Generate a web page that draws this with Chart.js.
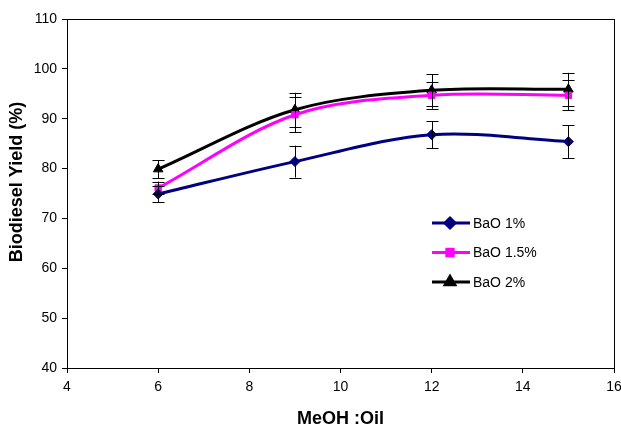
<!DOCTYPE html>
<html>
<head>
<meta charset="utf-8">
<script src="https://cdn.jsdelivr.net/npm/chart.js@4.4.1/dist/chart.umd.min.js"></script>
<style>
  html, body { margin: 0; padding: 0; background: #fff; }
  #wrap { width: 621px; height: 432px; }
</style>
</head>
<body>
<div id="wrap"><canvas id="chart" width="621" height="432"></canvas></div>
<script>
// dati
const ratios = [6, 9, 12, 15]; // MeOH:Oil
const labels = ["BaO 1%", "BaO 1.5%", "BaO 2%"];
const bao1 = [74.9, 81.4, 86.8, 85.4];
const bao15 = [76.1, 90.8, 94.7, 94.7];
const bao2 = [79.9, 91.8, 95.7, 95.9];
const err1 = [1.6, 3.2, 2.7, 3.3];
const err15 = [1.3, 3.5, 2.7, 3.0];
const err2 = [1.8, 3.4, 3.2, 3.3];
const xTicks = [4, 6, 8, 10, 12, 14, 16];
const yTicks = [40, 50, 60, 70, 80, 90, 100, 110];

const colors = ["#000080", "#FF00FF", "#000000"];
const shapes = ["rectRot", "rect", "triangle"];
const radii = [5, 4.5, 5.5];
const allValues = [bao1, bao15, bao2];
const allErrors = [err1, err15, err2];

const font = "'Liberation Sans', Arial, sans-serif";

function toPoints(vals) {
  return ratios.map((x, i) => ({ x: x, y: vals[i] }));
}

// barre d'errore + cornice + legenda + titolo asse y
const extras = {
  id: "extras",
  afterDatasetsDraw(chart) {
    const ctx = chart.ctx;
    const xs = chart.scales.x;
    const ys = chart.scales.y;
    ctx.save();
    ctx.strokeStyle = "#000";
    ctx.lineWidth = 1;
    allValues.forEach((vals, d) => {
      vals.forEach((v, i) => {
        const px = Math.round(xs.getPixelForValue(ratios[i])) + 0.5;
        const top = ys.getPixelForValue(v + allErrors[d][i]);
        const bot = ys.getPixelForValue(v - allErrors[d][i]);
        ctx.beginPath();
        ctx.moveTo(px, top);
        ctx.lineTo(px, bot);
        ctx.moveTo(px - 6, Math.round(top) + 0.5);
        ctx.lineTo(px + 6, Math.round(top) + 0.5);
        ctx.moveTo(px - 6, Math.round(bot) + 0.5);
        ctx.lineTo(px + 6, Math.round(bot) + 0.5);
        ctx.stroke();
      });
    });
    const a = chart.chartArea;
    ctx.strokeRect(Math.round(a.left) + 0.5, Math.round(a.top) + 0.5,
      Math.round(a.right - a.left), Math.round(a.bottom - a.top));

    // legenda
    ctx.font = "14px " + font;
    ctx.textBaseline = "middle";
    labels.forEach((lab, d) => {
      const y = 223 + d * 29.5;
      ctx.strokeStyle = colors[d];
      ctx.lineWidth = 3;
      ctx.beginPath();
      ctx.moveTo(432, y);
      ctx.lineTo(470, y);
      ctx.stroke();
      Chart.helpers.drawPoint(ctx, {
        pointStyle: shapes[d], radius: radii[d], borderWidth: 1
      }, 450, y);
      ctx.fillStyle = colors[d];
      ctx.fill();
      ctx.fillStyle = "#000";
      ctx.fillText(lab, 473, y + 1);
    });

    // titolo asse y
    ctx.translate(17, 182);
    ctx.rotate(-Math.PI / 2);
    ctx.font = "bold 18px " + font;
    ctx.textAlign = "center";
    ctx.fillStyle = "#000";
    ctx.fillText("Biodiesel Yield (%)", 0, 0);
    ctx.restore();
  }
};

const config = {
  type: "line",
  data: {
    datasets: allValues.map((vals, d) => ({
      label: labels[d],
      data: toPoints(vals),
      borderColor: colors[d],
      backgroundColor: colors[d],
      borderWidth: 3,
      pointStyle: shapes[d],
      pointRadius: radii[d],
      pointBorderWidth: 1,
      tension: 0.33,
      fill: false,
    })),
  },
  options: {
    responsive: false,
    animation: false,
    layout: { padding: { top: 19, right: 7, left: 0, bottom: 0 } },
    plugins: {
      legend: { display: false },
      tooltip: { enabled: false },
    },
    scales: {
      x: {
        type: "linear",
        min: 4,
        max: 16,
        afterBuildTicks: (s) => { s.ticks = xTicks.map((v) => ({ value: v })); },
        afterFit: (s) => { s.height = 64; s.paddingRight = 0; s.paddingLeft = 0; },
        grid: { display: true, drawOnChartArea: false, tickLength: 5, color: "#000" },
        border: { color: "#000" },
        ticks: { color: "#000", font: { family: font, size: 14 }, padding: 6, maxRotation: 0 },
        title: {
          display: true,
          text: "MeOH :Oil",
          color: "#000",
          font: { family: font, size: 18, weight: "bold" },
          padding: { top: 0, bottom: 2 },
        },
      },
      y: {
        min: 40,
        max: 110,
        afterBuildTicks: (s) => { s.ticks = yTicks.map((v) => ({ value: v })); },
        afterFit: (s) => { s.width = 67; s.paddingTop = 0; s.paddingBottom = 0; },
        grid: { display: true, drawOnChartArea: false, tickLength: 5, color: "#000" },
        border: { color: "#000" },
        ticks: { color: "#000", font: { family: font, size: 14 }, padding: 5 },
        title: { display: false },
      },
    },
  },
  plugins: [extras],
};

const ctx = document.getElementById("chart").getContext("2d");
const chart = new Chart(ctx, config);
</script>
</body>
</html>
